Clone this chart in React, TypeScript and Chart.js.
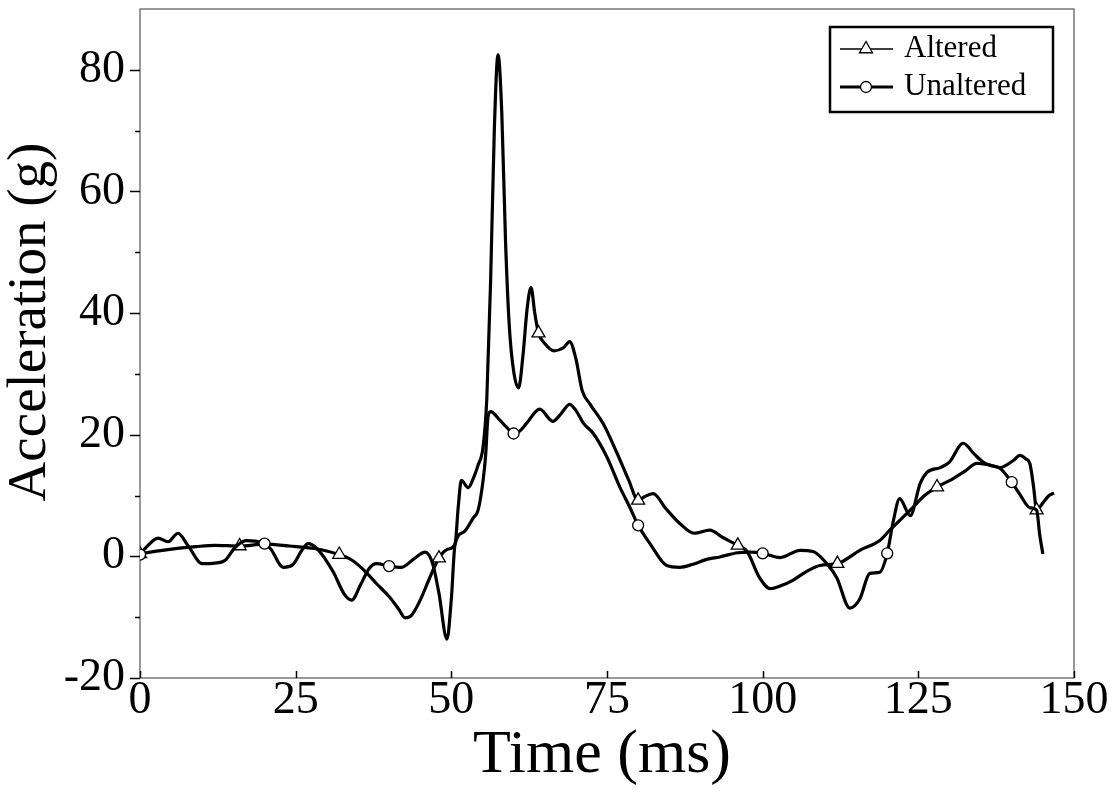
import React, { useEffect, useRef } from 'react';
import { Chart, registerables } from 'chart.js';

Chart.register(...registerables);

// ---------- data ----------
const alteredT = [
  0, 3, 6, 9, 12, 16, 20, 24, 28, 32, 34, 36, 38, 40, 41.5, 42.6, 43.6, 45, 46.5, 48,
  49.5, 50.6, 51.1, 51.6, 52.7, 53.6, 54.3, 55.1, 55.7, 56.3, 56.9, 57.5, 58.1, 58.7, 59.3, 60,
  60.8, 61.5, 62.2, 62.8, 63.4, 64, 65, 66.5, 68, 69, 70, 71, 72.3, 74.4, 76.6, 78.5, 80,
  81, 82.4, 84.5, 86.7, 89, 91.5, 93.6, 96, 97.5, 99.5, 101.2, 103, 104.9, 107, 109.2, 112,
  115.6, 118.8, 120.4, 123.7, 126, 128, 130.6, 132.5, 134.4, 136.5, 138.1, 140.3, 141.3, 142.3,
  142.9, 143.5, 144, 145, 146, 146.8,
];
const alteredV = [
  0.4, 0.9, 1.3, 1.6, 1.8, 1.7, 2.0, 1.7, 1.3, 0.3, -0.6, -2.3, -4.5, -6.6, -8.6, -10.1, -9.7, -7.2, -3.6, -0.3,
  1.2, 2.0, 8, 12.5, 11.3, 13, 15, 18, 26, 45, 70, 82.5, 73, 52, 38, 30.5,
  27.7, 33, 41, 44.2, 40, 36.7, 35, 33.8, 34.3, 35.3, 32.5, 27.3, 25, 21.8, 17, 12.5, 9.2,
  9.8, 10.3, 7.8, 5.4, 3.8, 4.3, 3.1, 1.8, 0.8, -3.5, -5.3, -4.8, -3.9, -2.5, -1.5, -1.2,
  1.0, 2.6, 4.3, 7.6, 10, 11.4, 12.8, 14, 15.3, 15.0, 14.6, 15.8, 16.6, 16.0,
  15.3, 11.5, 7.6, 8.8, 10, 10.4,
];

const unalteredT = [
  0, 1, 2.9, 4.5, 6.1, 7.7, 10, 12, 13.6, 15.3, 17, 18.5, 20, 21, 23, 24.5, 26, 27, 28.5, 31,
  32.8, 34, 35.5, 36.8, 38, 40, 42, 44, 45.8, 47, 48, 49.3, 50, 50.6, 52, 53.5, 54.3, 55.1,
  55.5, 55.9, 56.3, 57.8, 58.9, 60, 61, 62.1, 64.2, 66.3, 67.5, 69, 70, 71.2, 72.8, 75, 77.1,
  78.7, 80, 81.9, 84.6, 86.7, 88.8, 91, 93.1, 96, 98, 100, 102.8, 106, 108.1, 110.3, 111.9,
  114, 115.6, 117.2, 118.8, 120, 121, 122, 123.7, 125.3, 126.4, 128.5, 130, 132.2, 134, 135.4,
  136.5, 138.1, 140, 141.3, 142.9, 144, 144.5, 145,
];
const unalteredV = [
  0.3, 1.5, 3.0, 2.4, 3.8, 1.8, -1.2, -1.1, -0.7, 1.5, 2.6, 2.5, 2.1, 1.2, -1.8, -1.4, 1.0, 2.1, 1.2, -2.5,
  -6.2, -7.2, -4.5, -2.0, -1.2, -1.6, -1.8, -0.4, 0.7, -1.2, -6, -13.6, -7, 2.0, 4.0, 6.3, 7.6, 12.5,
  16.5, 23, 23.8, 22.4, 21.2, 20.2, 20.6, 21.9, 24.2, 22.2, 23.3, 25, 24, 21.9, 20.2, 16.3, 11.3,
  8, 5.1, 2.1, -1.5, -1.8, -1.3, -0.5, -0.1, 0.6, 0.7, 0.5, -0.2, 1.0, 0.8, -1.2, -3.5,
  -8.5, -7, -2.8, -2.6, 0.5, 5.9, 9.5, 6.7, 12, 13.8, 14.6, 15.5, 18.6, 16.8, 15.5,
  15.0, 14.5, 12.2, 10.2, 8, 7.6, 3.5, 0.4,
];

const alteredMarkerT = [0, 16, 32, 48, 64, 80, 96, 112, 128, 144];
const unalteredMarkerT = [0, 20, 40, 60, 80, 100, 120, 140];

const seriesNames = ['Altered', 'Unaltered'];
const xTicks = [0, 25, 50, 75, 100, 125, 150];
const yTicks = [-20, 0, 20, 40, 60, 80];
const yMinorTicks = [-10, 10, 30, 50, 70];
const xLabel = 'Time (ms)';
const yLabel = 'Acceleration (g)';

const SERIF = '"Liberation Serif", "Times New Roman", serif';

function drawMarker(ctx: CanvasRenderingContext2D, style: string, x: number, y: number) {
  ctx.save();
  ctx.fillStyle = '#fff';
  ctx.strokeStyle = '#000';
  ctx.lineWidth = 1.3;
  ctx.beginPath();
  if (style === 'triangle') {
    const r = 7.5;
    ctx.moveTo(x, y - r);
    ctx.lineTo(x + r * 0.866, y + r * 0.5);
    ctx.lineTo(x - r * 0.866, y + r * 0.5);
    ctx.closePath();
  } else {
    ctx.arc(x, y, 5.5, 0, Math.PI * 2);
  }
  ctx.fill();
  ctx.stroke();
  ctx.restore();
}

const decorPlugin = {
  id: 'decor',
  beforeDatasetsDraw(chart: any) {
    const { ctx, chartArea, scales } = chart;
    const { left, right, top, bottom } = chartArea;
    const x = scales.x;
    const y = scales.y;
    ctx.save();
    ctx.strokeStyle = '#555';
    ctx.lineWidth = 1.2;
    ctx.strokeRect(left, top, right - left, bottom - top);
    ctx.strokeStyle = '#000';
    ctx.lineWidth = 1.5;
    yTicks.forEach((v) => {
      const py = Math.round(y.getPixelForValue(v)) + 0.5;
      ctx.beginPath();
      ctx.moveTo(left - 10, py);
      ctx.lineTo(left, py);
      ctx.stroke();
    });
    yMinorTicks.forEach((v) => {
      const py = Math.round(y.getPixelForValue(v)) + 0.5;
      ctx.beginPath();
      ctx.moveTo(left - 5, py);
      ctx.lineTo(left, py);
      ctx.stroke();
    });
    xTicks.forEach((v) => {
      const px = Math.round(x.getPixelForValue(v)) + 0.5;
      ctx.beginPath();
      ctx.moveTo(px, bottom);
      ctx.lineTo(px, bottom - 7);
      ctx.stroke();
    });
    ctx.restore();
  },
  afterDraw(chart: any) {
    const { ctx, chartArea } = chart;
    ctx.save();
    // axis titles
    ctx.fillStyle = '#000';
    ctx.textAlign = 'center';
    ctx.textBaseline = 'middle';
    ctx.font = `62px ${SERIF}`;
    ctx.fillText(xLabel, (chartArea.left + chartArea.right) / 2 - 5, 756);
    ctx.save();
    ctx.translate(31, 322);
    ctx.rotate(-Math.PI / 2);
    ctx.font = `55px ${SERIF}`;
    ctx.fillText(yLabel, 0, 0);
    ctx.restore();

    // legend
    const boxL = 830, boxT = 27, boxR = 1053, boxB = 112;
    ctx.fillStyle = '#fff';
    ctx.fillRect(boxL, boxT, boxR - boxL, boxB - boxT);
    ctx.strokeStyle = '#000';
    ctx.lineWidth = 2.5;
    ctx.strokeRect(boxL, boxT, boxR - boxL, boxB - boxT);
    const rows = [
      { name: seriesNames[0], style: 'triangle', y: 49 },
      { name: seriesNames[1], style: 'circle', y: 87 },
    ];
    rows.forEach((r) => {
      ctx.strokeStyle = '#000';
      ctx.lineWidth = r.style === 'triangle' ? 1.5 : 3;
      ctx.beginPath();
      ctx.moveTo(840, r.y);
      ctx.lineTo(893, r.y);
      ctx.stroke();
      drawMarker(ctx, r.style, 866, r.y);
      ctx.fillStyle = '#000';
      ctx.font = `31px ${SERIF}`;
      ctx.textAlign = 'left';
      ctx.textBaseline = 'middle';
      ctx.fillText(r.name, 904, r.y);
    });
    ctx.restore();
  },
};

export default function App() {
  const ref = useRef<HTMLCanvasElement | null>(null);

  useEffect(() => {
    document.body.style.margin = '0';
    const canvas = ref.current;
    if (!canvas) return;

    const aSet = new Set(alteredMarkerT);
    const uSet = new Set(unalteredMarkerT);
    const aData = alteredT.map((t, i) => ({ x: t, y: alteredV[i] }));
    const uData = unalteredT.map((t, i) => ({ x: t, y: unalteredV[i] }));

    const tickFont = { family: SERIF, size: 46 };

    const chart = new Chart(canvas, {
      type: 'line',
      data: {
        datasets: [
          {
            label: seriesNames[0],
            data: aData,
            borderColor: '#000',
            borderWidth: 3.2,
            backgroundColor: '#fff',
            pointStyle: 'triangle',
            pointBackgroundColor: '#fff',
            pointBorderColor: '#000',
            pointBorderWidth: 1.3,
            pointRadius: (c: any) => (c.raw && aSet.has(c.raw.x) ? 7.5 : 0),
            pointHoverRadius: 0,
            cubicInterpolationMode: 'monotone',
            fill: false,
            order: 2,
          },
          {
            label: seriesNames[1],
            data: uData,
            borderColor: '#000',
            borderWidth: 3.2,
            backgroundColor: '#fff',
            pointStyle: 'circle',
            pointBackgroundColor: '#fff',
            pointBorderColor: '#000',
            pointBorderWidth: 1.3,
            pointRadius: (c: any) => (c.raw && uSet.has(c.raw.x) ? 5.5 : 0),
            pointHoverRadius: 0,
            cubicInterpolationMode: 'monotone',
            fill: false,
            order: 1,
          },
        ],
      },
      options: {
        animation: false,
        responsive: false,
        devicePixelRatio: 1,
        events: [],
        layout: { padding: { top: 9, right: 38, left: 0, bottom: 0 } },
        plugins: { legend: { display: false }, tooltip: { enabled: false } },
        scales: {
          x: {
            type: 'linear',
            min: 0,
            max: 150,
            afterBuildTicks: (s: any) => {
              s.ticks = xTicks.map((v) => ({ value: v }));
            },
            afterFit: (s: any) => {
              s.height = 116;
              s.paddingLeft = 0;
              s.paddingRight = 0;
            },
            grid: { display: false, drawTicks: false },
            border: { display: false },
            ticks: { font: tickFont, color: '#000', padding: -5, maxRotation: 0, autoSkip: false },
            title: { display: false, text: xLabel },
          },
          y: {
            type: 'linear',
            min: -20,
            max: 90,
            afterBuildTicks: (s: any) => {
              s.ticks = yTicks.map((v) => ({ value: v }));
            },
            afterFit: (s: any) => {
              s.width = 140;
              s.paddingTop = 0;
              s.paddingBottom = 0;
            },
            grid: { display: false, drawTicks: false },
            border: { display: false },
            ticks: { font: tickFont, color: '#000', padding: 15, autoSkip: false },
            title: { display: false, text: yLabel },
          },
        },
      },
      plugins: [decorPlugin],
    } as any);

    return () => chart.destroy();
  }, []);

  return (
    <div style={{ width: 1112, height: 794, background: '#fff' }}>
      <canvas ref={ref} width={1112} height={794} style={{ display: 'block' }} />
    </div>
  );
}
